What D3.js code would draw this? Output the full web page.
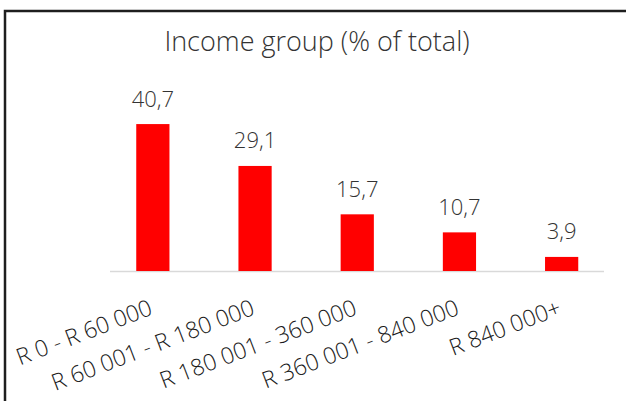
<!DOCTYPE html>
<html lang="en">
<head>
<meta charset="UTF-8">
<title>Income group</title>
<style>
  html, body { margin: 0; padding: 0; background: #fff; }
  svg { display: block; font-family: "Open Sans", "Noto Sans", sans-serif; font-weight: 300; }
</style>
</head>
<body>
<script src="https://d3js.org/d3.v7.min.js"></script>
<div id="chart"></div>
<script>
// data
const categories = ["R 0 - R 60 000", "R 60 001 - R 180 000", "R 180 001 - 360 000", "R 360 001 - 840 000", "R 840 000+"];
const values = [40.7, 29.1, 15.7, 10.7, 3.9];
const valueLabels = ["40,7", "29,1", "15,7", "10,7", "3,9"];
const title = "Income group (% of total)";

const width = 626, height = 401;
const baseY = 271;

const svg = d3.select("#chart").append("svg")
  .attr("width", width)
  .attr("height", height);

// chart frame (cut off on right and bottom)
svg.append("path")
  .attr("d", "M5,401 V11 H626")
  .attr("fill", "none")
  .attr("stroke", "#1e1e1e")
  .attr("stroke-width", 2.5);

svg.append("text")
  .attr("x", 317)
  .attr("y", 51)
  .attr("text-anchor", "middle")
  .attr("font-size", 27)
  .attr("fill", "#333")
  .text(title);

// scales
const x = d3.scaleBand()
  .domain(categories)
  .range([101.5, 613])
  .paddingInner(0.675)
  .paddingOuter(0.34);

const y = d3.scaleLinear()
  .domain([0, 45])
  .range([baseY, baseY - 45 * 3.61]);

// baseline
svg.append("line")
  .attr("x1", 110).attr("x2", 604)
  .attr("y1", baseY + 0.5).attr("y2", baseY + 0.5)
  .attr("stroke", "#d9d9d9")
  .attr("stroke-width", 1.5);

// bars
svg.append("g").selectAll("rect")
  .data(values)
  .join("rect")
  .attr("x", (d, i) => x(categories[i]))
  .attr("width", x.bandwidth())
  .attr("y", d => y(d))
  .attr("height", d => baseY - y(d))
  .attr("fill", "#ff0000");

// value labels
svg.append("g").selectAll("text")
  .data(values)
  .join("text")
  .attr("x", (d, i) => x(categories[i]) + x.bandwidth() / 2)
  .attr("y", d => y(d) - 17.5)
  .attr("text-anchor", "middle")
  .attr("font-size", 22)
  .attr("fill", "#333")
  .text((d, i) => valueLabels[i]);

// category labels, rotated
svg.append("g").selectAll("text")
  .data(categories)
  .join("text")
  .attr("transform", d => "translate(" + (x(d) + x.bandwidth() / 2 + 1) + "," + 314 + ") rotate(-21)")
  .attr("text-anchor", "end")
  .attr("font-size", 23)
  .attr("fill", "#1a1a1a")
  .text(d => d);
</script>
</body>
</html>
